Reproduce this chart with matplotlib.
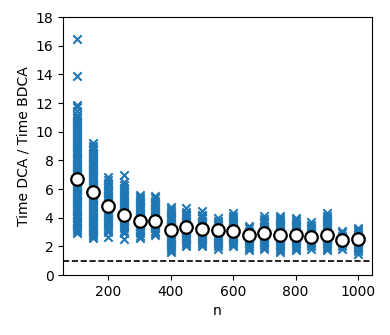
import numpy as np
import matplotlib
matplotlib.use('Agg')
import matplotlib.pyplot as plt

# problem sizes
n_values = [100, 150, 200, 250, 300, 350, 400, 450, 500, 550,
            600, 650, 700, 750, 800, 850, 900, 950, 1000]

# time ratios of individual runs
ratios = [
    [2.9, 3.05, 3.2, 3.35, 3.5, 3.65, 3.8, 3.95, 4.1, 4.25, 4.4, 4.55, 4.7, 4.85, 5.0, 5.15,
     5.3, 5.45, 5.6, 5.75, 5.9, 6.05, 6.2, 6.35, 6.5, 6.65, 6.8, 6.95, 7.1, 7.25, 7.4, 7.55,
     7.7, 7.85, 8.0, 8.15, 8.3, 8.45, 8.6, 8.75, 8.9, 9.05, 9.2, 9.35, 9.5, 9.65, 9.8, 9.95,
     10.1, 10.25, 10.4, 10.55, 10.7, 10.85, 11.0, 11.2, 11.45, 11.7, 11.85, 13.9, 16.45],
    [2.55, 2.7, 2.85, 3.0, 3.15, 3.3, 3.45, 3.6, 3.75, 3.9, 4.05, 4.2, 4.35, 4.5, 4.65, 4.8,
     4.95, 5.1, 5.25, 5.4, 5.55, 5.7, 5.85, 6.0, 6.15, 6.3, 6.45, 6.6, 6.75, 6.9, 7.05, 7.2,
     7.35, 7.5, 7.65, 7.8, 7.95, 8.1, 8.25, 8.4, 8.55, 8.7, 8.85, 9.0, 9.2],
    [2.65, 3.0, 3.15, 3.3, 3.45, 3.6, 3.75, 3.9, 4.05, 4.2, 4.35, 4.5, 4.65, 4.8, 4.95, 5.1,
     5.25, 5.4, 5.55, 5.7, 5.85, 6.0, 6.15, 6.3, 6.45, 6.6, 6.85],
    [2.5, 2.95, 3.1, 3.25, 3.4, 3.55, 3.7, 3.85, 4.0, 4.15, 4.3, 4.45, 4.6, 4.75, 4.9, 5.05,
     5.2, 5.35, 5.5, 5.65, 5.8, 5.95, 6.1, 6.25, 6.5, 6.98],
    [2.6, 2.75, 2.9, 3.05, 3.2, 3.35, 3.5, 3.65, 3.8, 3.95, 4.1, 4.25, 4.4, 4.55, 4.7, 4.85,
     5.0, 5.15, 5.3, 5.45, 5.6],
    [2.8, 2.95, 3.1, 3.25, 3.4, 3.55, 3.7, 3.85, 4.0, 4.15, 4.3, 4.45, 4.6, 4.75, 4.9, 5.05,
     5.2, 5.35, 5.5],
    [1.6, 1.75, 1.9, 2.05, 2.2, 2.35, 2.5, 2.65, 2.8, 2.95, 3.1, 3.25, 3.4, 3.55, 3.7, 3.85,
     4.0, 4.15, 4.3, 4.45, 4.6, 4.75],
    [2.0, 2.15, 2.3, 2.45, 2.6, 2.75, 2.9, 3.05, 3.2, 3.35, 3.5, 3.65, 3.8, 3.95, 4.1, 4.25,
     4.4, 4.65],
    [2.0, 2.15, 2.3, 2.45, 2.6, 2.75, 2.9, 3.05, 3.2, 3.35, 3.5, 3.65, 3.8, 3.95, 4.1, 4.2, 4.5],
    [1.85, 2.0, 2.15, 2.3, 2.45, 2.6, 2.75, 2.9, 3.05, 3.2, 3.35, 3.5, 3.65, 3.8, 3.95],
    [2.0, 2.15, 2.3, 2.45, 2.6, 2.75, 2.9, 3.05, 3.2, 3.35, 3.5, 3.65, 3.8, 3.95, 4.1, 4.3],
    [1.75, 1.9, 2.05, 2.2, 2.35, 2.5, 2.65, 2.8, 2.95, 3.1, 3.25, 3.4],
    [1.8, 1.95, 2.1, 2.25, 2.4, 2.55, 2.7, 2.85, 3.0, 3.15, 3.3, 3.45, 3.6, 3.75, 3.9, 4.1],
    [1.6, 1.75, 1.9, 2.05, 2.2, 2.35, 2.5, 2.65, 2.8, 2.95, 3.1, 3.25, 3.4, 3.55, 3.7, 3.85,
     4.0, 4.1],
    [1.75, 1.9, 2.05, 2.2, 2.35, 2.5, 2.65, 2.8, 2.95, 3.1, 3.25, 3.4, 3.55, 3.7, 3.85, 3.95],
    [1.85, 2.0, 2.15, 2.3, 2.45, 2.6, 2.75, 2.9, 3.05, 3.2, 3.35, 3.5, 3.7],
    [1.75, 1.9, 2.05, 2.2, 2.35, 2.5, 2.65, 2.8, 2.95, 3.1, 3.25, 3.4, 3.55, 3.7, 3.85, 4.0,
     4.15, 4.35],
    [1.85, 2.0, 2.15, 2.3, 2.45, 2.6, 2.75, 2.9, 3.05],
    [1.5, 1.65, 1.8, 1.95, 2.1, 2.25, 2.4, 2.55, 2.7, 2.85, 3.0, 3.15, 3.25],
]

# mean ratio per n
mean_ratio = [6.7, 5.8, 4.85, 4.2, 3.8, 3.8, 3.15, 3.35, 3.2, 3.15,
              3.1, 2.8, 2.9, 2.8, 2.8, 2.65, 2.8, 2.45, 2.5]

fig = plt.figure(figsize=(3.9, 3.35), dpi=100)
ax = fig.add_axes([0.162, 0.179, 0.792, 0.77])

for n, r in zip(n_values, ratios):
    ax.scatter([n] * len(r), r, marker='x', s=36, color='#1f77b4', linewidths=1.5, zorder=2)

ax.plot(n_values, mean_ratio, 'o', markersize=9, markerfacecolor='white',
        markeredgecolor='black', markeredgewidth=1.6, linestyle='none', zorder=3)
ax.axhline(1, color='black', linestyle='--', linewidth=1.2, zorder=1)

ax.set_ylim(0, 18)
ax.set_yticks(np.arange(0, 19, 2))
ax.set_xlim(55, 1045)
ax.set_xticks([200, 400, 600, 800, 1000])
ax.set_xlabel('n')
ax.set_ylabel('Time DCA / Time BDCA')

fig.savefig('out.png', dpi=100)
